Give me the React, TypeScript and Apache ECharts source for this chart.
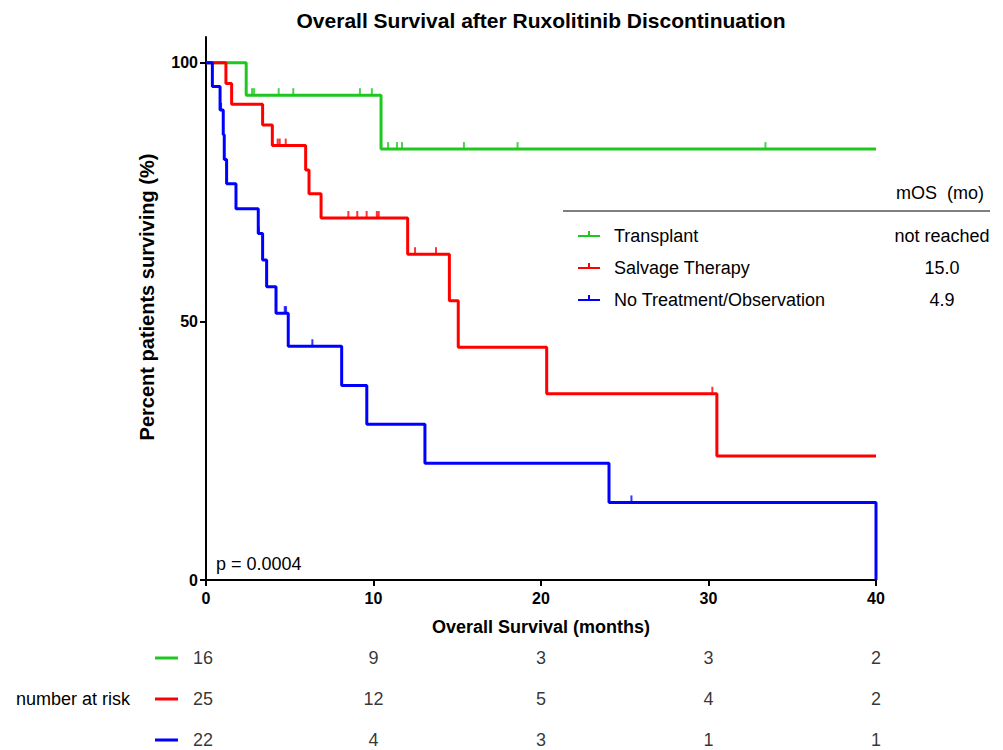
import React, { useEffect, useRef } from "react";
import * as echarts from "echarts";

// ---- Data ----
const seriesNames = ["Transplant", "Salvage Therapy", "No Treatment/Observation"];
const seriesColors = ["#1ec81e", "#ff0000", "#0000ff"];
const medianOS = ["not reached", "15.0", "4.9"];

const greenTimes = [0, 2.4, 10.45, 40];
const greenSurv = [100, 93.75, 83.33, 83.33];
const greenCensorTimes = [2.75, 2.87, 4.34, 5.21, 9.19, 9.9, 10.87, 11.4, 11.7, 15.4, 18.6, 33.4];
const greenCensorSurv = [93.75, 93.75, 93.75, 93.75, 93.75, 93.75, 83.33, 83.33, 83.33, 83.33, 83.33, 83.33];

const redTimes = [0, 1.19, 1.53, 3.38, 3.96, 5.95, 6.15, 6.87, 12.04, 14.53, 15.06, 20.34, 30.5, 40];
const redSurv = [100, 96, 92, 88, 84, 79.3, 74.7, 70, 63, 54, 45, 36, 24, 24];
const redCensorTimes = [4.28, 4.4, 4.76, 8.5, 9.03, 9.59, 10.2, 10.31, 12.48, 13.73, 30.23];
const redCensorSurv = [84, 84, 84, 70, 70, 70, 70, 70, 63, 63, 36];

const blueTimes = [0, 0.38, 0.84, 1.03, 1.09, 1.23, 1.79, 3.12, 3.38, 3.62, 4.18, 4.91, 8.1, 9.6, 13.07, 24.06, 40];
const blueSurv = [100, 95.45, 90.9, 86.1, 81.3, 76.6, 71.8, 67.0, 61.9, 56.7, 51.6, 45.2, 37.6, 30.1, 22.6, 15.0, 0];
const blueCensorTimes = [0.9, 3.15, 4.7, 4.78, 6.35, 25.4];
const blueCensorSurv = [90.9, 67.0, 51.6, 51.6, 45.2, 15.0];

const yTickValues = [0, 50, 100];
const riskTimes = [0, 10, 20, 30, 40];
const riskTransplant = [16, 9, 3, 3, 2];
const riskSalvage = [25, 12, 5, 4, 2];
const riskNone = [22, 4, 3, 1, 1];

const FONT = '"Liberation Sans", Arial, Helvetica, sans-serif';

function zip(a: number[], b: number[]) {
  return a.map((t, i) => [t, b[i]]);
}

export default function App() {
  const ref = useRef<HTMLDivElement>(null);
  useEffect(() => {
    if (!ref.current) return;
    const chart = echarts.init(ref.current, null, { renderer: "svg" });

    const curves = [
      { t: greenTimes, s: greenSurv, ct: greenCensorTimes, cs: greenCensorSurv },
      { t: redTimes, s: redSurv, ct: redCensorTimes, cs: redCensorSurv },
      { t: blueTimes, s: blueSurv, ct: blueCensorTimes, cs: blueCensorSurv },
    ];
    const risks = [riskTransplant, riskSalvage, riskNone];

    const series: any[] = [];
    curves.forEach((c, i) => {
      series.push({
        name: seriesNames[i],
        type: "line",
        step: "end",
        xAxisIndex: 0,
        yAxisIndex: 0,
        data: zip(c.t, c.s),
        symbol: "none",
        lineStyle: { color: seriesColors[i], width: 3 },
        z: 3 + i,
      });
      series.push({
        name: seriesNames[i] + " censored",
        type: "scatter",
        xAxisIndex: 0,
        yAxisIndex: 0,
        data: zip(c.ct, c.cs),
        symbol: "rect",
        symbolSize: [2, 7],
        symbolOffset: [0, -3.5],
        itemStyle: { color: seriesColors[i] },
        z: 3 + i,
      });
      series.push({
        name: seriesNames[i] + " at risk",
        type: "scatter",
        xAxisIndex: 1,
        yAxisIndex: 1,
        clip: false,
        data: riskTimes.map((t, k) => ({
          value: [t, i, risks[i][k]],
          label: k === 0 ? { offset: [-3, 0] } : undefined,
        })),
        symbolSize: 1,
        itemStyle: { color: "transparent" },
        label: {
          show: true,
          position: "inside",
          formatter: (p: any) => String(p.value[2]),
          color: "#000",
          fontSize: 18,
          fontFamily: FONT,
        },
        z: 10,
      });
    });

    const graphic: any[] = [
      {
        type: "text",
        x: 541,
        y: 20,
        style: { text: "Overall Survival after Ruxolitinib Discontinuation", font: `bold 21px ${FONT}`, fill: "#000", align: "center", verticalAlign: "middle" },
      },
      {
        type: "text",
        x: 147,
        y: 297,
        rotation: Math.PI / 2,
        style: { text: "Percent patients surviving (%)", font: `bold 20px ${FONT}`, fill: "#000", align: "center", verticalAlign: "middle" },
      },
      {
        type: "text",
        x: 541,
        y: 627,
        style: { text: "Overall Survival (months)", font: `bold 18px ${FONT}`, fill: "#000", align: "center", verticalAlign: "middle" },
      },
      {
        type: "text",
        x: 216,
        y: 564,
        style: { text: "p = 0.0004", font: `18px ${FONT}`, fill: "#000", align: "left", verticalAlign: "middle" },
      },
      {
        type: "text",
        x: 940,
        y: 193,
        style: { text: "mOS  (mo)", font: `18px ${FONT}`, fill: "#000", align: "center", verticalAlign: "middle" },
      },
      {
        type: "line",
        shape: { x1: 563, y1: 211, x2: 990, y2: 211 },
        style: { stroke: "#000", lineWidth: 1 },
      },
      {
        type: "text",
        x: 16,
        y: 699,
        style: { text: "number at risk", font: `18px ${FONT}`, fill: "#000", align: "left", verticalAlign: "middle" },
      },
    ];
    const legendY = [236, 268, 300];
    seriesNames.forEach((n, i) => {
      const y = legendY[i];
      graphic.push({ type: "line", shape: { x1: 578, y1: y, x2: 600, y2: y }, style: { stroke: seriesColors[i], lineWidth: 2 } });
      graphic.push({ type: "line", shape: { x1: 589, y1: y, x2: 589, y2: y - 5 }, style: { stroke: seriesColors[i], lineWidth: 2 } });
      graphic.push({ type: "text", x: 614, y, style: { text: n, font: `18px ${FONT}`, fill: "#000", align: "left", verticalAlign: "middle" } });
      graphic.push({ type: "text", x: 942, y, style: { text: medianOS[i], font: `18px ${FONT}`, fill: "#000", align: "center", verticalAlign: "middle" } });
    });
    const tableY = [658, 699, 740];
    tableY.forEach((y, i) => {
      graphic.push({ type: "line", shape: { x1: 155, y1: y, x2: 178, y2: y }, style: { stroke: seriesColors[i], lineWidth: 3 } });
    });

    chart.setOption({
      animation: false,
      backgroundColor: "#fff",
      grid: [
        { left: 206, right: 127, top: 37, bottom: 170, containLabel: false },
        { left: 206, right: 127, top: 658, height: 82, containLabel: false },
      ],
      xAxis: [
        {
          type: "value",
          gridIndex: 0,
          min: 0,
          max: 40,
          interval: 10,
          axisLine: { show: true, lineStyle: { color: "#000", width: 2 } },
          axisTick: { show: true, length: 6, lineStyle: { color: "#000", width: 2 } },
          axisLabel: { color: "#000", fontSize: 16, fontWeight: "bold", fontFamily: FONT, margin: 10 },
          splitLine: { show: false },
        },
        {
          type: "value",
          gridIndex: 1,
          min: 0,
          max: 40,
          axisLine: { show: false },
          axisTick: { show: false },
          axisLabel: { show: false },
          splitLine: { show: false },
        },
      ],
      yAxis: [
        {
          type: "value",
          gridIndex: 0,
          min: 0,
          max: 105,
          axisLine: { show: true, lineStyle: { color: "#000", width: 2 } },
          axisTick: { show: true, length: 6, lineStyle: { color: "#000", width: 2 }, customValues: yTickValues },
          axisLabel: { color: "#000", fontSize: 16, fontWeight: "bold", fontFamily: FONT, margin: 8, customValues: yTickValues },
          splitLine: { show: false },
        },
        {
          type: "value",
          gridIndex: 1,
          min: 0,
          max: 2,
          inverse: true,
          axisLine: { show: false },
          axisTick: { show: false },
          axisLabel: { show: false },
          splitLine: { show: false },
        },
      ],
      series,
      graphic,
    });

    return () => chart.dispose();
  }, []);

  return <div ref={ref} style={{ position: "absolute", left: 0, top: 0, width: 1003, height: 750 }} />;
}
